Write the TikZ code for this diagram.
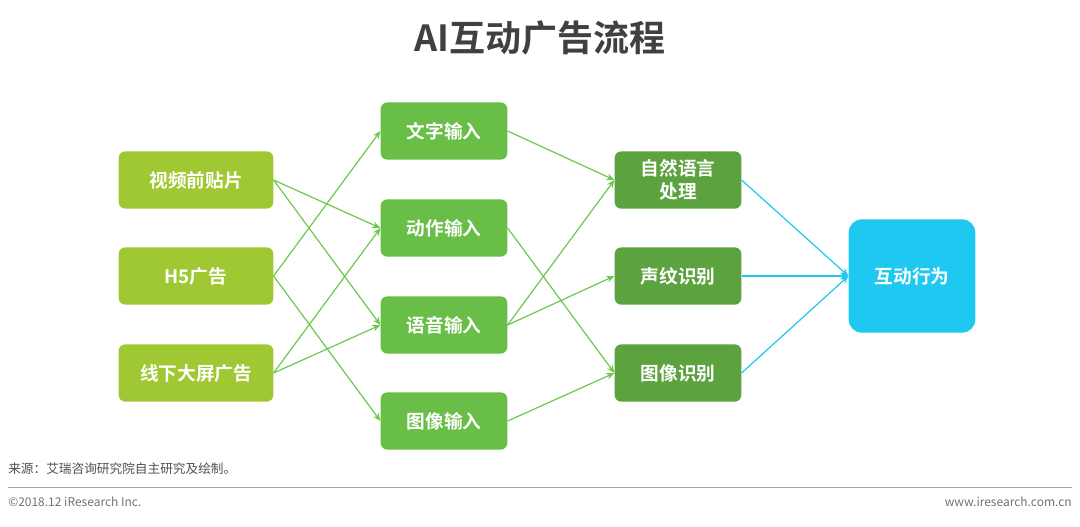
\documentclass[tikz,border=0pt]{standalone}
\usepackage{fontspec}
\setmainfont{Noto Sans CJK SC}
\newfontfamily\cjkb{Noto Sans CJK SC Bold}
\usetikzlibrary{arrows.meta}
\definecolor{lg}{RGB}{160,200,50}
\definecolor{mg}{RGB}{104,190,70}
\definecolor{dg}{RGB}{92,162,62}
\definecolor{cy}{RGB}{30,200,240}
\definecolor{ln}{RGB}{110,200,80}
\begin{document}
\begin{tikzpicture}[x=0.75pt,y=-0.75pt,
 box/.style={rounded corners=5pt,text=white,font=\cjkb\fontsize{14}{17}\selectfont,align=center,inner sep=0pt},
 gl/.style={draw=ln,line width=0.9pt,-{Stealth[length=6pt,width=5pt]}},
 cl/.style={draw=cy,line width=0.9pt,-{Stealth[length=6pt,width=5pt]}}]
\useasboundingbox (0,0) rectangle (1080,526);
\fill[white] (0,0) rectangle (1080,526);
\node[font=\cjkb\fontsize{27}{32}\selectfont,text={rgb,255:red,64;green,64;blue,64}] (title) at (540,38) {AI互动广告流程};
% left
\node[box,fill=lg,minimum width=116pt,minimum height=43pt] (a1) at (196,180) {视频前贴片};
\node[box,fill=lg,minimum width=116pt,minimum height=43pt] (a2) at (196,276) {H5广告};
\node[box,fill=lg,minimum width=116pt,minimum height=43pt] (a3) at (196,373) {线下大屏广告};
% middle
\node[box,fill=mg,minimum width=95pt,minimum height=43pt] (b1) at (444,131) {文字输入};
\node[box,fill=mg,minimum width=95pt,minimum height=43pt] (b2) at (444,228) {动作输入};
\node[box,fill=mg,minimum width=95pt,minimum height=43pt] (b3) at (444,325) {语音输入};
\node[box,fill=mg,minimum width=95pt,minimum height=43pt] (b4) at (444,421) {图像输入};
% right
\node[box,fill=dg,minimum width=95pt,minimum height=43pt] (c1) at (678,180) {自然语言\\处理};
\node[box,fill=dg,minimum width=95pt,minimum height=43pt] (c2) at (678,276) {声纹识别};
\node[box,fill=dg,minimum width=95pt,minimum height=43pt] (c3) at (678,373) {图像识别};
\node[box,fill=cy,rounded corners=10pt,minimum width=95pt,minimum height=85pt] (d) at (912,276) {互动行为};
% arrows
\draw[gl] (a1.east) -- (b2.west);
\draw[gl] (a1.east) -- (b3.west);
\draw[gl] (a2.east) -- (b1.west);
\draw[gl] (a2.east) -- (b4.west);
\draw[gl] (a3.east) -- (b2.west);
\draw[gl] (a3.east) -- (b3.west);
\draw[gl] (b1.east) -- (c1.west);
\draw[gl] (b2.east) -- (c3.west);
\draw[gl] (b3.east) -- (c1.west);
\draw[gl] (b3.east) -- (c2.west);
\draw[gl] (b4.east) -- (c3.west);
\draw[cl] (c1.east) -- (d.west);
\draw[cl] (c2.east) -- (d.west);
\draw[cl] (c3.east) -- (d.west);
% footer
\node[anchor=west,font=\fontsize{9.5}{11}\selectfont,text={rgb,255:red,80;green,80;blue,80},inner sep=0pt] (src) at (8,469) {来源：艾瑞咨询研究院自主研究及绘制。};
\coordinate (l1) at (8,487); \coordinate (l2) at (1072,487);
\draw[gray!70,line width=0.6pt] (l1) -- (l2);
\node[anchor=west,font=\fontsize{9}{11}\selectfont,text=gray!90!black,inner sep=0pt] (cp) at (8,502) {©2018.12 iResearch Inc.};
\node[anchor=east,font=\fontsize{9}{11}\selectfont,text=gray!90!black,inner sep=0pt] (www) at (1072,502) {www.iresearch.com.cn};
\end{tikzpicture}
\end{document}
